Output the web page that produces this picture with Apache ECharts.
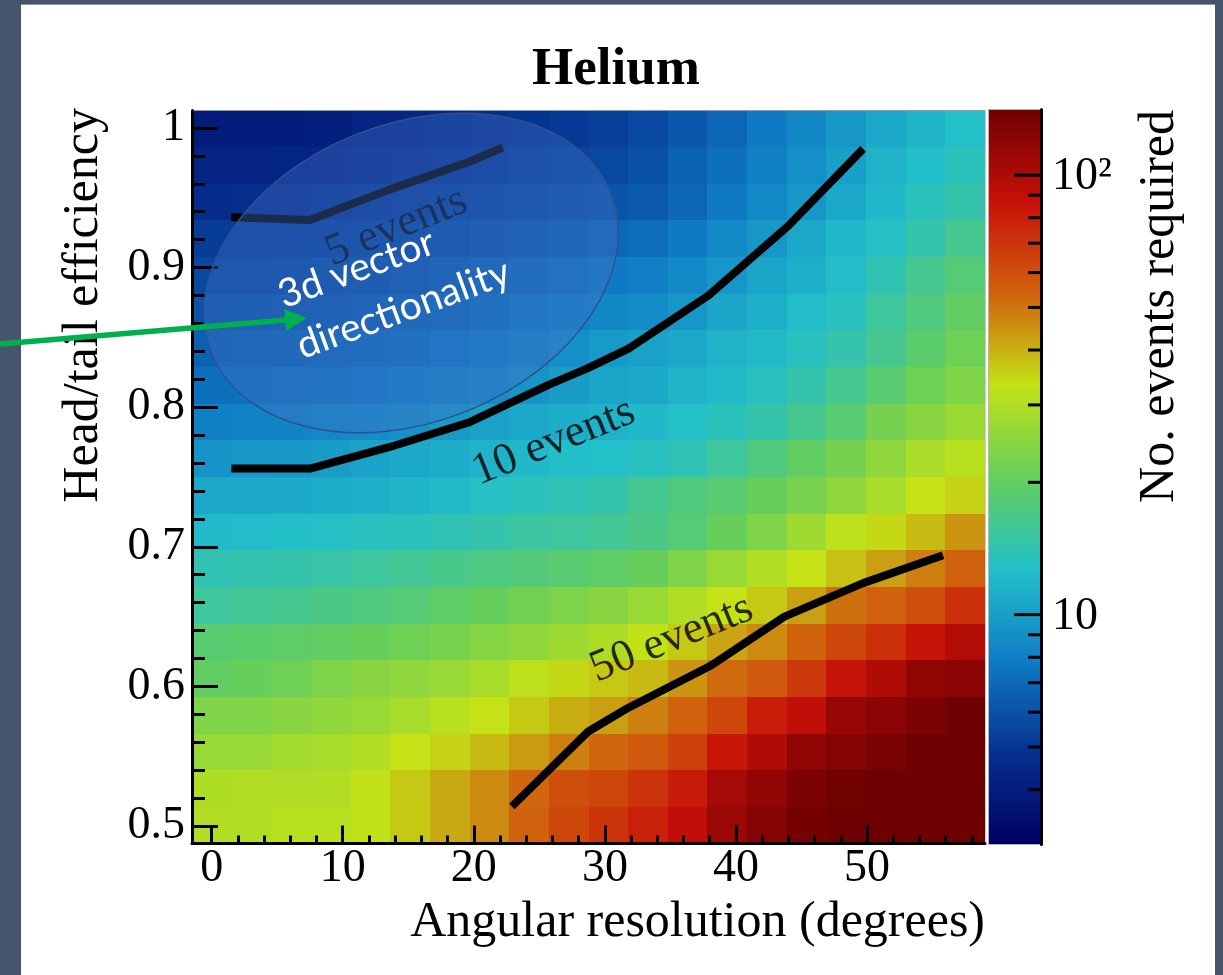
<!DOCTYPE html>
<html>
<head>
<meta charset="utf-8">
<script src="https://cdn.jsdelivr.net/npm/echarts@6/dist/echarts.min.js"></script>
<style>
  html, body { margin: 0; padding: 0; background: #46556b; width: 1223px; height: 975px; overflow: hidden; }
  #panel { position: absolute; left: 21px; top: 4px; width: 1194px; height: 971px; background: #ffffff; border-top: 1px solid #8b98a9; }
  #chart { position: absolute; left: 0; top: 0; width: 1223px; height: 975px; }
</style>
</head>
<body>
<div id="panel"></div>
<div id="chart"></div>
<script>
// ---------------- data ----------------
// bin edges of the 2D histogram
const angleBinEdges = [-1.5, 1.525, 4.55, 7.575, 10.6, 13.625, 16.65, 19.675, 22.7, 25.725, 28.75,
  31.775, 34.8, 37.825, 40.85, 43.875, 46.9, 49.925, 52.95, 55.975, 59.0];
const efficiencyBinEdges = [0.4875, 0.51375, 0.54, 0.56625, 0.5925, 0.61875, 0.645, 0.67125, 0.6975,
  0.72375, 0.75, 0.77625, 0.8025, 0.82875, 0.855, 0.88125, 0.9075, 0.93375, 0.96, 0.98625, 1.0125];

// No. events required; rows from top (efficiency ~1.0) to bottom (efficiency ~0.5),
// columns from angular resolution ~0 to ~57 degrees
const eventsRequired = [
  [3.93, 3.93, 4.01, 4.08, 4.24, 4.41, 4.58, 4.76, 4.95, 5.14, 5.35, 5.66, 6.23, 6.86, 7.71, 8.48, 9.52, 10.7, 11.7, 12.7],
  [4.24, 4.24, 4.32, 4.41, 4.58, 4.76, 4.95, 5.14, 5.35, 5.52, 5.66, 6.00, 6.61, 7.27, 8.16, 8.99, 10.1, 11.5, 12.5, 13.5],
  [4.67, 4.72, 4.76, 4.91, 5.09, 5.24, 5.41, 5.59, 5.77, 5.95, 6.12, 6.35, 6.91, 7.71, 8.55, 9.52, 10.7, 12.0, 13.5, 14.5],
  [5.24, 5.28, 5.35, 5.45, 5.55, 5.72, 5.90, 6.12, 6.35, 6.61, 6.86, 7.14, 7.71, 8.65, 9.52, 10.7, 12.0, 13.0, 14.5, 16.3],
  [5.66, 5.70, 5.77, 5.88, 6.00, 6.23, 6.48, 6.73, 7.05, 7.41, 7.71, 8.01, 8.65, 9.52, 10.5, 11.3, 12.4, 14.0, 16.3, 18.3],
  [6.12, 6.16, 6.23, 6.35, 6.48, 6.73, 7.00, 7.33, 7.71, 8.10, 8.48, 8.82, 9.52, 10.5, 11.3, 12.4, 13.3, 15.4, 17.6, 19.8],
  [6.61, 6.66, 6.73, 6.86, 7.05, 7.33, 7.65, 8.01, 8.42, 8.99, 9.70, 10.2, 10.7, 11.5, 12.2, 13.3, 14.5, 16.3, 19.0, 21.4],
  [7.27, 7.33, 7.41, 7.56, 7.77, 8.10, 8.42, 8.82, 9.34, 9.90, 10.5, 10.9, 11.5, 12.2, 13.3, 14.5, 16.3, 18.7, 21.4, 23.5],
  [8.16, 8.22, 8.32, 8.55, 8.82, 9.16, 9.70, 10.2, 10.7, 11.1, 11.5, 12.0, 12.7, 13.5, 14.5, 16.3, 18.7, 22.2, 24.5, 26.9],
  [9.34, 9.41, 9.52, 9.90, 10.3, 10.7, 11.1, 11.5, 12.0, 12.5, 12.7, 13.3, 14.0, 15.4, 17.6, 19.8, 22.2, 25.4, 29.1, 31.4],
  [10.7, 10.7, 10.9, 11.1, 11.3, 11.7, 12.2, 13.0, 13.5, 14.0, 14.5, 16.3, 17.6, 18.7, 20.6, 22.6, 25.4, 28.8, 33.3, 35.3],
  [12.2, 12.4, 12.6, 12.9, 13.3, 13.5, 14.0, 14.5, 15.1, 15.4, 16.0, 17.0, 18.3, 20.6, 23.5, 27.4, 32.0, 34.6, 38.8, 44.4],
  [14.0, 14.3, 14.5, 14.8, 15.4, 16.0, 16.6, 17.3, 17.9, 18.7, 19.4, 20.6, 23.5, 26.5, 30.2, 33.3, 37.7, 42.7, 48.0, 53.8],
  [15.4, 16.0, 16.3, 17.0, 17.6, 18.3, 19.4, 20.6, 21.8, 23.1, 24.5, 26.5, 30.2, 33.3, 36.6, 42.7, 50.9, 53.8, 60.4, 71.9],
  [18.7, 19.0, 19.4, 19.8, 20.6, 21.4, 22.6, 24.0, 25.4, 27.4, 29.7, 32.7, 36.6, 41.9, 46.2, 53.8, 62.8, 71.9, 85.5, 97.8],
  [19.8, 20.6, 21.4, 23.1, 24.5, 25.4, 26.5, 28.8, 32.0, 34.6, 36.6, 38.8, 44.4, 51.8, 56.0, 67.9, 85.5, 98.5, 117, 121],
  [23.5, 23.5, 24.5, 25.5, 26.5, 28.8, 31.4, 33.3, 36.6, 40.4, 42.7, 48.0, 53.8, 62.8, 80.6, 90.6, 113, 121, 131, 141],
  [26.5, 26.5, 28.0, 28.8, 30.2, 33.3, 35.3, 38.8, 43.5, 48.0, 52.8, 56.0, 65.3, 83.9, 98.5, 117, 126, 133, 141, 141],
  [29.7, 30.2, 30.2, 30.2, 32.7, 36.6, 41.1, 46.2, 52.8, 60.4, 62.8, 70.5, 82.3, 104, 117, 131, 138, 141, 141, 141],
  [30.2, 30.2, 31.4, 31.4, 32.7, 36.6, 41.1, 46.2, 53.8, 62.8, 70.5, 79.1, 90.6, 112, 126, 136, 141, 141, 141, 141]
];

// contour lines [angular resolution, efficiency]
const contour5 = [[1.5, 0.936], [7.5, 0.934], [13.6, 0.956], [19.7, 0.976], [22.2, 0.986]];
const contour10 = [[1.5, 0.756], [7.5, 0.756], [13.6, 0.7715], [19.6, 0.789], [25.7, 0.816], [28.7, 0.828],
  [31.8, 0.842], [37.9, 0.88], [44.0, 0.93], [49.7, 0.985]];
const contour50 = [[22.9, 0.514], [25.5, 0.538], [28.7, 0.5675], [31.65, 0.584], [38.1, 0.615], [43.7, 0.65],
  [49.7, 0.674], [55.8, 0.694]];
const contourLabelText = ['5 events', '10 events', '50 events'];
const contourLabelPos = [[14.1, 0.929], [26.1, 0.775], [35.1, 0.634]];

// axis ticks
const xMajorTicks = [0, 10, 20, 30, 40, 50];
const xMinorTicks = [2, 4, 6, 8, 12, 14, 16, 18, 22, 24, 26, 28, 32, 34, 36, 38, 42, 44, 46, 48, 52, 54, 56, 58];
const yMajorTicks = [0.5, 0.6, 0.7, 0.8, 0.9, 1.0];
const yMinorTicks = [0.52, 0.54, 0.56, 0.58, 0.62, 0.64, 0.66, 0.68, 0.72, 0.74, 0.76, 0.78,
  0.82, 0.84, 0.86, 0.88, 0.92, 0.94, 0.96, 0.98];
const zMin = 3, zMax = 141;
const cbTicks = [4, 5, 6, 7, 8, 9, 10, 20, 30, 40, 50, 60, 70, 80, 90, 100];
const cbTickLabels = ['', '', '', '', '', '', '10', '', '', '', '', '', '', '', '', '10\u00B2'];

// ROOT "rainbow" palette stops
const palette = ['#000063', '#05308e', '#0f7cc6', '#23c0c9', '#66ce5a', '#c4e216', '#d0610d', '#c71008', '#6e0002'];

// ---------------- chart ----------------
const SERIF = '"Liberation Serif", "Times New Roman", serif';
const cells = [];
const nRows = eventsRequired.length;
eventsRequired.forEach((row, r) => {
  const j = nRows - 1 - r;
  row.forEach((v, c) => {
    cells.push([angleBinEdges[c], angleBinEdges[c + 1], efficiencyBinEdges[j], efficiencyBinEdges[j + 1], v, Math.log10(v)]);
  });
});

const chart = echarts.init(document.getElementById('chart'), null, { renderer: 'canvas', width: 1223, height: 975 });

const axisBlack = { color: '#000', width: 3 };
const option = {
  animation: false,
  backgroundColor: 'transparent',
  title: {
    text: 'Helium', left: 616, top: 44, textAlign: 'center', padding: 0,
    textStyle: { fontFamily: SERIF, fontWeight: 'bold', fontSize: 53, color: '#000' }
  },
  grid: [
    { left: 192, top: 110.5, width: 793, height: 733, show: true, borderColor: '#9a9a9a', borderWidth: 1, backgroundColor: 'transparent' },
    { left: 988.5, top: 109.5, width: 52.5, height: 735, show: true, borderColor: '#b5b5b5', borderWidth: 1, backgroundColor: 'transparent' }
  ],
  xAxis: [
    {
      gridIndex: 0, type: 'value', min: -1.5, max: 59, position: 'bottom', z: 10,
      axisLine: { show: true, onZero: false, lineStyle: axisBlack },
      axisTick: { show: true, inside: true, length: 18, customValues: xMajorTicks, lineStyle: axisBlack },
      axisLabel: { show: true, customValues: xMajorTicks, margin: 2, fontFamily: SERIF, fontSize: 46, lineHeight: 46, color: '#000' },
      splitLine: { show: false }
    },
    {
      gridIndex: 0, type: 'value', min: -1.5, max: 59, position: 'bottom', z: 10,
      axisLine: { show: false, onZero: false },
      axisTick: { show: true, inside: true, length: 8, customValues: xMinorTicks, lineStyle: axisBlack },
      axisLabel: { show: false }, splitLine: { show: false }
    },
    { gridIndex: 1, type: 'value', min: 0, max: 1, show: false, axisLine: { onZero: false } }
  ],
  yAxis: [
    {
      gridIndex: 0, type: 'value', min: 0.4875, max: 1.0125, position: 'left', z: 10,
      axisLine: { show: true, onZero: false, lineStyle: axisBlack },
      axisTick: { show: true, inside: true, length: 26, customValues: yMajorTicks, lineStyle: axisBlack },
      axisLabel: {
        show: true, customValues: yMajorTicks, margin: 7, fontFamily: SERIF, fontSize: 46, color: '#000',
        formatter: v => String(Math.round(v * 10) / 10)
      },
      splitLine: { show: false }
    },
    {
      gridIndex: 0, type: 'value', min: 0.4875, max: 1.0125, position: 'left', z: 10,
      axisLine: { show: false, onZero: false },
      axisTick: { show: true, inside: true, length: 13, customValues: yMinorTicks, lineStyle: axisBlack },
      axisLabel: { show: false }, splitLine: { show: false }
    },
    {
      gridIndex: 1, type: 'log', logBase: 10, min: zMin, max: zMax, position: 'right', z: 10,
      axisLine: { show: true, onZero: false, lineStyle: axisBlack },
      axisTick: { show: false }, axisLabel: { show: false }, splitLine: { show: false }
    }
  ],
  visualMap: [{
    type: 'continuous', show: false, seriesIndex: 0, dimension: 5,
    min: Math.log10(zMin), max: Math.log10(zMax), inRange: { color: palette }
  }],
  series: [
    {
      type: 'custom', name: 'events', xAxisIndex: 0, yAxisIndex: 0, z: 1,
      dimensions: ['x0', 'x1', 'y0', 'y1', 'events', 'logEvents'],
      encode: { x: [0, 1], y: [2, 3], tooltip: 4 },
      data: cells,
      renderItem: (params, api) => {
        const a = api.coord([api.value(0), api.value(3)]);
        const b = api.coord([api.value(1), api.value(2)]);
        const x0 = Math.round(a[0]), y0 = Math.round(a[1]);
        const x1 = Math.round(b[0]), y1 = Math.round(b[1]);
        return { type: 'rect', shape: { x: x0, y: y0, width: x1 - x0, height: y1 - y0 }, style: { fill: api.visual('color') } };
      }
    },
    { type: 'line', name: '5 events', xAxisIndex: 0, yAxisIndex: 0, data: contour5, symbol: 'none', z: 3,
      lineStyle: { color: '#000', width: 8 } },
    { type: 'line', name: '10 events', xAxisIndex: 0, yAxisIndex: 0, data: contour10, symbol: 'none', z: 3,
      lineStyle: { color: '#000', width: 8 } },
    { type: 'line', name: '50 events', xAxisIndex: 0, yAxisIndex: 0, data: contour50, symbol: 'none', z: 3,
      lineStyle: { color: '#000', width: 8 } },
    {
      type: 'scatter', xAxisIndex: 0, yAxisIndex: 0, symbolSize: 0, z: 4, silent: true,
      data: contourLabelPos.map((p, i) => ({ value: p, name: contourLabelText[i] })),
      label: { show: true, position: 'inside', formatter: '{b}', rotate: 22, fontFamily: SERIF, fontSize: 45, color: '#000' }
    },
    {
      type: 'custom', xAxisIndex: 2, yAxisIndex: 2, z: 1, silent: true,
      data: [[0, zMin, 1, zMax]],
      renderItem: (params, api) => {
        const a = api.coord([api.value(0), api.value(3)]);
        const b = api.coord([api.value(2), api.value(1)]);
        return {
          type: 'rect',
          shape: { x: a[0], y: a[1], width: b[0] - a[0], height: b[1] - a[1] },
          style: {
            fill: new echarts.graphic.LinearGradient(0, 1, 0, 0,
              palette.map((c, i) => ({ offset: i / (palette.length - 1), color: c }))),
            stroke: '#b5b5b5', lineWidth: 1
          }
        };
      }
    },
    {
      type: 'custom', xAxisIndex: 2, yAxisIndex: 2, z: 12, silent: true,
      data: cbTicks.map(v => [1, v]),
      renderItem: (params, api) => {
        const p = api.coord([api.value(0), api.value(1)]);
        const label = cbTickLabels[params.dataIndex];
        const len = label ? 27 : 13;
        const children = [{
          type: 'line', shape: { x1: p[0] - len, y1: p[1], x2: p[0], y2: p[1] },
          style: { stroke: '#000', lineWidth: 3 }
        }];
        if (label) {
          children.push({
            type: 'text', x: p[0] + 11, y: p[1] + 2,
            style: { text: label, fill: '#000', font: '46px ' + SERIF, align: 'left', verticalAlign: 'middle',
              textAlign: 'left', textVerticalAlign: 'middle' }
          });
        }
        return { type: 'group', children };
      }
    }
  ],
  graphic: [
    {
      type: 'text', x: 985, y: 923, z: 20,
      style: { text: 'Angular resolution (degrees)', fill: '#000', font: '50px ' + SERIF,
        textAlign: 'right', textVerticalAlign: 'middle', align: 'right', verticalAlign: 'middle' }
    },
    {
      type: 'text', x: 84, y: 108, rotation: Math.PI / 2, z: 20,
      style: { text: 'Head/tail efficiency', fill: '#000', font: '50px ' + SERIF,
        textAlign: 'right', textVerticalAlign: 'middle', align: 'right', verticalAlign: 'middle' }
    },
    {
      type: 'text', x: 1160, y: 110, rotation: Math.PI / 2, z: 20,
      style: { text: 'No. events required', fill: '#000', font: '50px ' + SERIF,
        textAlign: 'right', textVerticalAlign: 'middle', align: 'right', verticalAlign: 'middle' }
    },
    {
      type: 'ellipse', x: 411, y: 273, rotation: 21.8 * Math.PI / 180, z: 50,
      shape: { cx: 0, cy: 0, rx: 215, ry: 149 },
      style: { fill: 'rgba(68,114,196,0.38)', stroke: '#2f528f', lineWidth: 1.5 }
    },
    {
      type: 'text', x: 289, y: 322, rotation: 20 * Math.PI / 180, z: 51,
      style: { text: '3d vector\ndirectionality', fill: '#ffffff', font: '39px Lato, "Open Sans", sans-serif', lineHeight: 54,
        textAlign: 'left', textVerticalAlign: 'middle', align: 'left', verticalAlign: 'middle' }
    },
    {
      type: 'line', z: 60, shape: { x1: 0, y1: 344, x2: 286, y2: 319.9 },
      style: { stroke: '#00b050', lineWidth: 5.5 }
    },
    {
      type: 'polygon', z: 60, shape: { points: [[307, 318], [286.0, 330.9], [284.2, 308.9]] },
      style: { fill: '#00b050' }
    }
  ]
};
chart.setOption(option);
</script>
</body>
</html>
